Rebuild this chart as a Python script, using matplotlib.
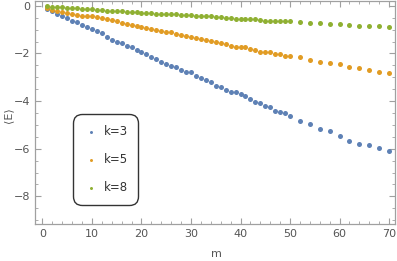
import numpy as np
import matplotlib
matplotlib.use("Agg")
import matplotlib.pyplot as plt
from matplotlib.ticker import MultipleLocator

# DATA

m_values = list(range(1, 51)) + list(range(52, 71, 2))

e_k3 = [-0.13, -0.24, -0.34, -0.41, -0.52, -0.63, -0.69, -0.80, -0.90, -0.98,
        -1.08, -1.15, -1.32, -1.43, -1.50, -1.58, -1.67, -1.75, -1.85, -1.95,
        -2.03, -2.13, -2.24, -2.34, -2.44, -2.51, -2.58, -2.69, -2.76, -2.80,
        -2.94, -3.03, -3.13, -3.22, -3.35, -3.43, -3.53, -3.60, -3.64, -3.70,
        -3.77, -3.92, -4.05, -4.09, -4.19, -4.23, -4.41, -4.45, -4.51, -4.64,
        -4.83, -4.97, -5.18, -5.27, -5.47, -5.67, -5.79, -5.85, -5.97, -6.11]

e_k5 = [-0.10, -0.17, -0.24, -0.27, -0.31, -0.35, -0.38, -0.41, -0.42, -0.45,
        -0.48, -0.52, -0.55, -0.59, -0.63, -0.71, -0.77, -0.80, -0.84, -0.91,
        -0.92, -0.97, -1.01, -1.08, -1.11, -1.12, -1.19, -1.22, -1.29, -1.33,
        -1.36, -1.39, -1.43, -1.47, -1.54, -1.57, -1.60, -1.67, -1.71, -1.71,
        -1.75, -1.81, -1.85, -1.95, -1.92, -1.96, -2.02, -2.03, -2.10, -2.10,
        -2.17, -2.27, -2.35, -2.41, -2.45, -2.59, -2.62, -2.70, -2.79, -2.83]

e_k8 = [-0.03, -0.04, -0.06, -0.07, -0.08, -0.10, -0.11, -0.13, -0.14, -0.15,
        -0.17, -0.18, -0.20, -0.21, -0.22, -0.24, -0.27, -0.27, -0.28, -0.31,
        -0.31, -0.31, -0.34, -0.34, -0.35, -0.36, -0.36, -0.38, -0.38, -0.39,
        -0.42, -0.42, -0.43, -0.45, -0.48, -0.49, -0.52, -0.52, -0.55, -0.55,
        -0.56, -0.56, -0.56, -0.59, -0.62, -0.62, -0.63, -0.66, -0.66, -0.66,
        -0.70, -0.73, -0.74, -0.77, -0.78, -0.81, -0.84, -0.84, -0.87, -0.91]

series_labels = ["k=3", "k=5", "k=8"]
series_colors = ["#5E81B5", "#E19C24", "#8FB032"]


# PLOT

plt.rcParams["font.family"] = ["DejaVu Sans", "Noto Sans"]

fig = plt.figure(figsize=(3.97, 2.61), dpi=100)
ax = fig.add_axes([35 / 397, 37 / 261, 360 / 397, 223 / 261])

for vals, lab, col in zip([e_k3, e_k5, e_k8], series_labels, series_colors):
    ax.scatter(m_values, vals, s=13, color=col, label=lab, linewidths=0, zorder=3)

ax.set_xlim(-1.5, 71.2)
ax.set_ylim(-9.16, 0.2)

frame_col = "#a0a0a0"
for sp in ax.spines.values():
    sp.set_color(frame_col)
    sp.set_linewidth(0.9)

ax.xaxis.set_major_locator(MultipleLocator(10))
ax.xaxis.set_minor_locator(MultipleLocator(2))
ax.yaxis.set_major_locator(MultipleLocator(2))
ax.yaxis.set_minor_locator(MultipleLocator(0.5))
ax.tick_params(which="both", direction="in", top=True, right=True,
               color=frame_col, labelcolor="#555555", labelsize=8)
ax.tick_params(which="major", length=4, width=0.8)
ax.tick_params(which="minor", length=2, width=0.6)

# axis labels placed where the reference has them
fig.text(216 / 397, 1 - 254 / 261, "m", fontsize=8, color="#555555",
         ha="center", va="center")
fig.text(8 / 397, 1 - 115 / 261, "⟨E⟩", fontsize=8, color="#555555",
         ha="center", va="center", rotation=90)

leg = ax.legend(loc="upper left", bbox_to_anchor=(38 / 360, 1 - 113 / 223),
                fontsize=8.5, frameon=True, fancybox=True, markerscale=0.6,
                handletextpad=0.5, labelspacing=1.3, borderpad=0.9,
                borderaxespad=0, handlelength=1.2)
frame = leg.get_frame()
frame.set_edgecolor("black")
frame.set_linewidth(1.0)
frame.set_boxstyle("round", pad=0, rounding_size=0.8)
for t in leg.get_texts():
    t.set_color("#333333")

fig.savefig("out.png", dpi=100)
